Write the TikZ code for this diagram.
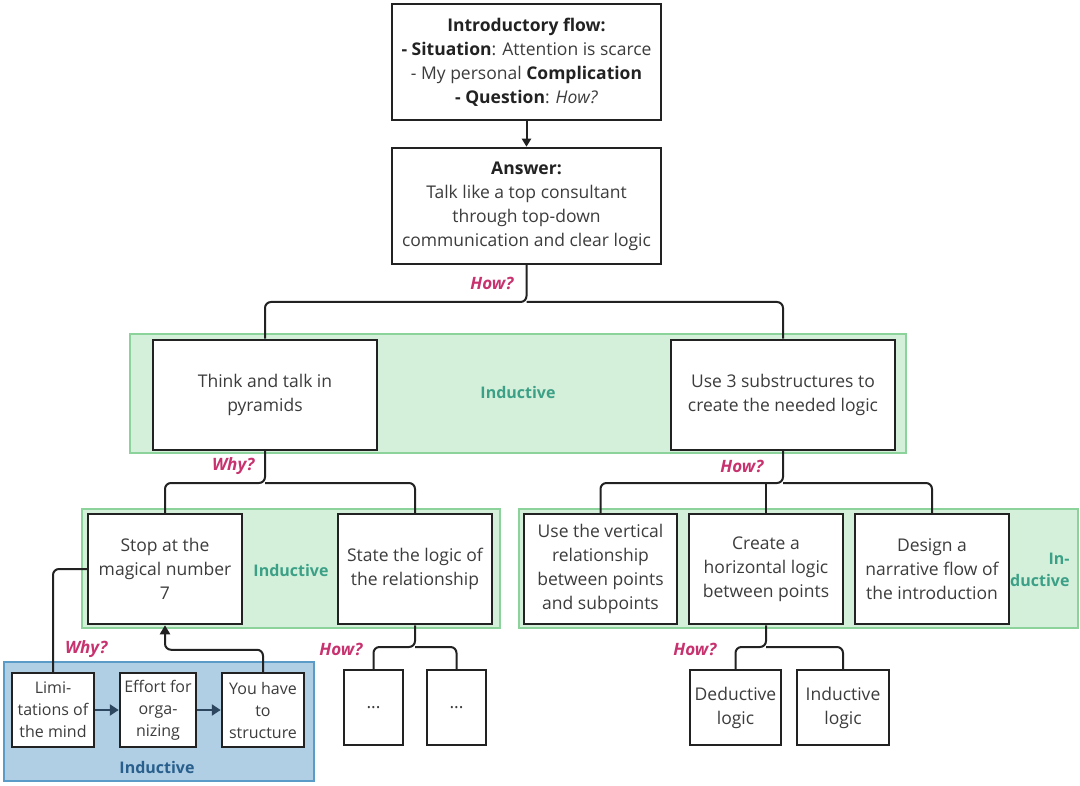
\documentclass[tikz,border=0pt]{standalone}
\usepackage{fontspec}
\setmainfont{Open Sans}
\usetikzlibrary{calc,arrows.meta}
\definecolor{boxc}{RGB}{34,34,34}
\definecolor{txtc}{RGB}{60,60,60}
\definecolor{howc}{RGB}{200,50,110}
\definecolor{indc}{RGB}{60,160,135}
\definecolor{grfill}{RGB}{212,240,218}
\definecolor{grline}{RGB}{140,210,155}
\definecolor{blfill}{RGB}{176,206,228}
\definecolor{blline}{RGB}{90,155,200}
\definecolor{blind}{RGB}{40,95,140}
\definecolor{arrc}{RGB}{45,70,95}
\begin{document}
\begin{tikzpicture}[x=1pt,y=-1pt,
	box/.style={draw=boxc,line width=2.5pt,fill=white,align=center,inner sep=0pt,text=txtc,font=\fontsize{17.5}{24}\selectfont},
	smallbox/.style={box,font=\fontsize{16}{22}\selectfont},
	conn/.style={draw=boxc,line width=2pt,rounded corners=6pt},
	flow/.style={draw=arrc,line width=2.5pt,-{Triangle[length=9pt,width=11pt]}},
	ask/.style={text=howc,font=\fontsize{17}{20}\selectfont\bfseries\itshape,anchor=east},
	ind/.style={text=indc,font=\fontsize{16}{22}\selectfont\bfseries,align=center},
	green/.style={fill=grfill,draw=grline,line width=2pt},
	blue/.style={fill=blfill,draw=blline,line width=2pt}]
	\useasboundingbox (0,0) rectangle (1080,786);
	\fill[white] (0,0) rectangle (1080,786);
	%bands
	\draw[green] (130,334) rectangle (906,453);
	\draw[green] (82,509) rectangle (500,628);
	\draw[green] (519,509) rectangle (1078,628);
	\draw[blue] (4,662) rectangle (314,781);
	\node[ind] (ind1) at (518,393) {Inductive};
	\node[ind] (ind2) at (291,570) {Inductive};
	\node[ind,align=right,anchor=east] (ind3) at (1073,570) {In-\\ductive};
	\node[ind,text=blind] (ind4) at (157,767) {Inductive};
	%top
	\node[box,minimum width=269,minimum height=116] (intro) at (526.5,62)
		{\textcolor{boxc}{\bfseries Introductory flow:}\\\textcolor{boxc}{\bfseries - Situation}: Attention is scarce\\- My personal \textcolor{boxc}{\bfseries Complication}\\\textcolor{boxc}{\bfseries - Question}: \textit{How?}};
	\node[box,minimum width=269,minimum height=116] (answer) at (526.5,206)
		{\textcolor{boxc}{\bfseries Answer:}\\Talk like a top consultant\\through top-down\\communication and clear logic};
	%level 1
	\node[box,minimum width=224,minimum height=110] (think) at (265,395) {Think and talk in\\pyramids};
	\node[box,minimum width=224,minimum height=110] (subs) at (783,395) {Use 3 substructures to\\create the needed logic};
	%level 2
	\node[box,minimum width=154,minimum height=110] (stop) at (165,569) {Stop at the\\magical number\\7};
	\node[box,minimum width=154,minimum height=110] (state) at (415,569) {State the logic of\\the relationship};
	\node[box,minimum width=153,minimum height=110] (vert) at (600.5,569) {Use the vertical\\relationship\\between points\\and subpoints};
	\node[box,minimum width=154,minimum height=110] (create) at (766,569) {Create a\\horizontal logic\\between points};
	\node[box,minimum width=154,minimum height=110] (design) at (932,569) {Design a\\narrative flow of\\the introduction};
	%level 3
	\node[smallbox,minimum width=82,minimum height=74] (lim) at (53,710) {Limi-\\tations of\\the mind};
	\node[smallbox,minimum width=76,minimum height=74] (effort) at (158,710) {Effort for\\orga-\\nizing};
	\node[smallbox,minimum width=82,minimum height=74] (have) at (263,710) {You have\\to\\structure};
	\node[box,minimum width=59,minimum height=75] (dotsa) at (373.5,707.5) {...};
	\node[box,minimum width=59,minimum height=75] (dotsb) at (456.5,707.5) {...};
	\node[box,minimum width=91,minimum height=75] (ded) at (735.5,707.5) {Deductive\\logic};
	\node[box,minimum width=92,minimum height=75] (indl) at (843,707.5) {Inductive\\logic};
	%connectors
	\draw[draw=boxc,line width=2pt,-{Triangle[length=8pt,width=9pt]}] (intro) -- (answer);
	\coordinate (j1) at (526.5,302);
	\draw[conn] (answer.south) -- (j1) -| (think.north);
	\draw[conn] (j1) -| (subs.north);
	\node[ask] (how1) at (517,283) {How?};
	\coordinate (j2) at (265,483);
	\draw[conn] (think.south) -- (j2) -| (stop.north);
	\draw[conn] (j2) -| (state.north);
	\node[ask] (why1) at (258,466) {Why?};
	\coordinate (j3) at (783,483);
	\draw[conn] (subs.south) -- (j3) -| (vert.north);
	\draw[conn] (j3) -| (design.north);
	\draw[conn] (create.north) -- (create.north |- j3);
	\node[ask] (how2) at (767,466) {How?};
	\coordinate (j4) at (415,647);
	\draw[conn] (state.south) -- (j4) -| (dotsa.north);
	\draw[conn] (j4) -| (dotsb.north);
	\node[ask] (how3) at (366,649) {How?};
	\coordinate (j5) at (766,647);
	\draw[conn] (create.south) -- (j5) -| (ded.north);
	\draw[conn] (j5) -| (indl.north);
	\node[ask] (how4) at (720,649) {How?};
	\draw[conn] (lim.north) |- (stop.west); %why link
	\node[ask] (why2) at (111,649) {Why?};
	\draw[conn,-{Triangle[length=9pt,width=10pt]}] (have.north) -- ++(0,-22) -| (stop.south);
	\draw[flow] (lim) -- (effort);
	\draw[flow] (effort) -- (have);
\end{tikzpicture}
\end{document}
